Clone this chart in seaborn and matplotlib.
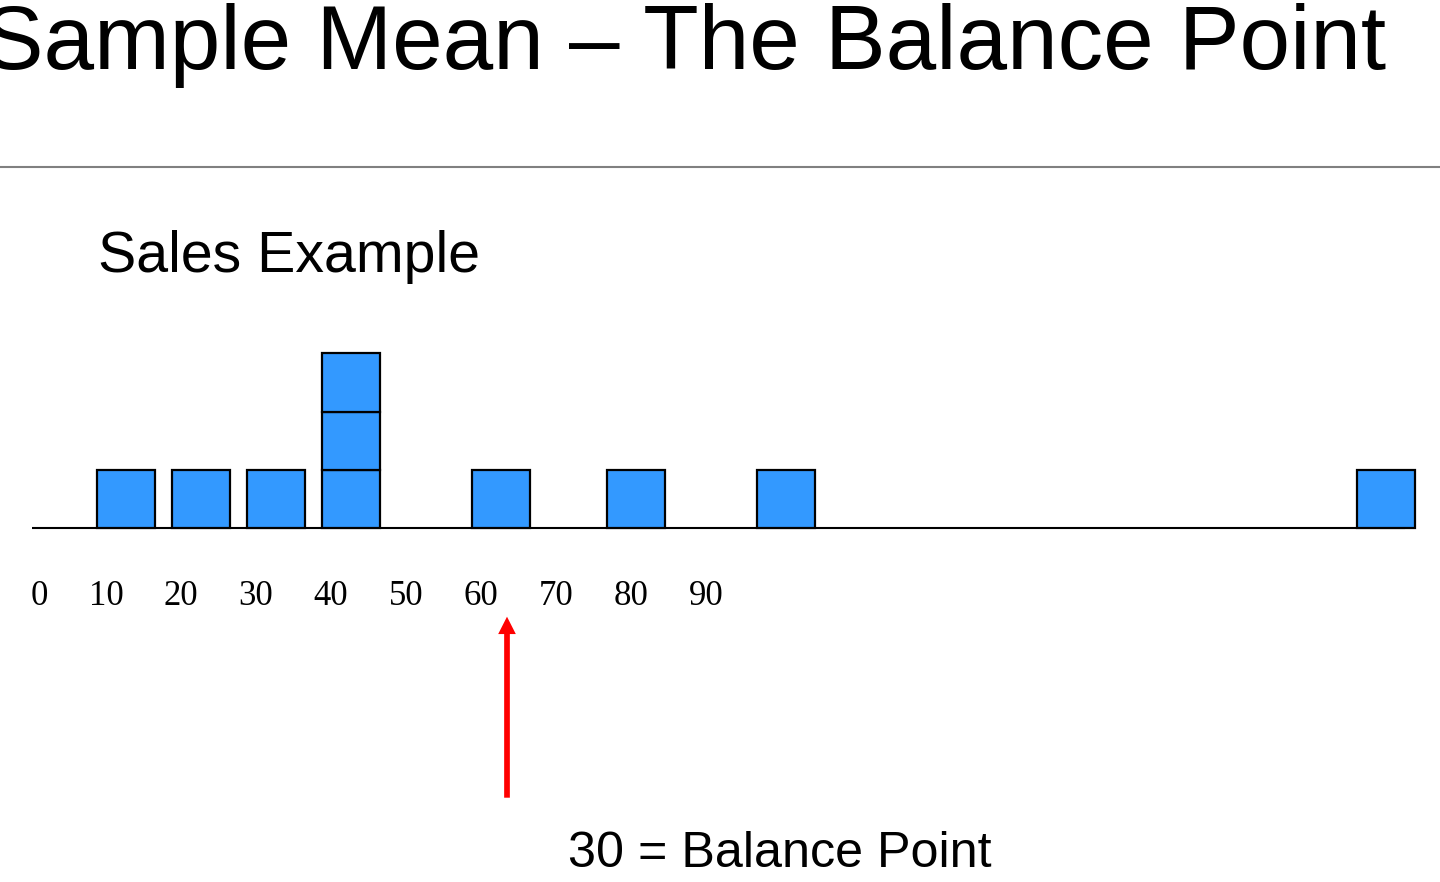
import matplotlib
matplotlib.use("Agg")
import matplotlib.pyplot as plt
import seaborn as sns
import pandas as pd
from matplotlib.lines import Line2D

# ---- data / text ----
title = "Sample Mean \u2013 The Balance Point"
subtitle = "Sales Example"
sales = [10, 20, 30, 40, 40, 40, 60, 78, 98, 178]
tick_values = [0, 10, 20, 30, 40, 50, 60, 70, 80, 90]
balance_point = 60.8
balance_label = "30 = Balance Point"

sns.set_theme(style="white")
plt.rcParams["font.family"] = ["Liberation Sans", "DejaVu Sans"]

W, H = 1440, 882
fig = plt.figure(figsize=(W / 100, H / 100), dpi=100)
ax = fig.add_axes([0, 0, 1, 1])

# pixel <-> data layout constants
PX0, PXU = 51.0, 7.5     # x pixel of value 0, pixels per unit
PY0, PYU = 528.0, 58.2   # baseline pixel row, pixels per stacked square
ax.set_xlim(-PX0 / PXU, (W - PX0) / PXU)
ax.set_ylim(-(H - PY0) / PYU, PY0 / PYU)
ax.axis("off")

def dx(px):
    return (px - PX0) / PXU

def dy(py):
    return (PY0 - py) / PYU

df = pd.DataFrame({"sales": sales})
df["level"] = df.groupby("sales").cumcount()

# baseline
ax.plot([dx(32), dx(1405)], [0, 0], color="black", lw=1.5, zorder=2,
        solid_capstyle="butt")

# stacked squares
ax.bar(df["sales"], 1, bottom=df["level"], width=7.76, color="#3399FF",
       edgecolor="black", linewidth=1.6, zorder=3)

# tick labels (serif, right-aligned)
for v in tick_values:
    ax.text(v - 0.35, dy(605), str(v), ha="right", va="baseline", fontsize=25,
            family=["Liberation Serif", "DejaVu Serif"], color="black")

# arrow
ax.annotate("", xy=(balance_point, dy(616.7)), xytext=(balance_point, dy(797.7)),
            arrowprops=dict(arrowstyle="simple,head_length=12.5,head_width=12.7,tail_width=4.1",
                            mutation_scale=1, color="#FF0000", lw=0,
                            shrinkA=0, shrinkB=0))

# texts
fig.text(1386 / W, 1 - 69 / H, title, ha="right", va="baseline",
         fontsize=65.4, color="black")
fig.add_artist(Line2D([0, 1], [1 - 166.7 / H] * 2, color="#808080", lw=1.5,
                      transform=fig.transFigure))
fig.text(97.5 / W, 1 - 272 / H, subtitle, ha="left", va="baseline",
         fontsize=41.2, color="black")
fig.text(568 / W, 1 - 867 / H, balance_label, ha="left", va="baseline",
         fontsize=36.2, color="black")

fig.savefig("out.png", dpi=100)
